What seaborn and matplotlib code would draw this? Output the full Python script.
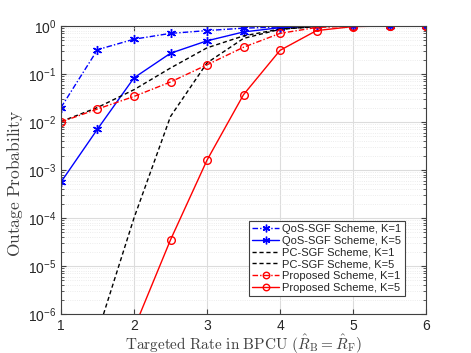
import numpy as np
import pandas as pd
import matplotlib
matplotlib.use("Agg")
import matplotlib.pyplot as plt
import seaborn as sns
from matplotlib.ticker import LogLocator, NullFormatter

# targeted rate (BPCU)
rate = [1, 1.5, 2, 2.5, 3, 3.5, 4, 4.5, 5, 5.5, 6]

# outage probabilities
qos_k1 = [0.02, 0.32, 0.53, 0.70, 0.80, 0.90, 0.95, 0.99, 1.0, 1.0, 1.0]
qos_k5 = [5.6e-4, 7.1e-3, 0.083, 0.27, 0.49, 0.75, 0.92, 0.98, 1.0, 1.0, 1.0]
pc_k1 = [0.0102, 0.02, 0.047, 0.133, 0.35, 0.62, 0.86, 0.97, 1.0, 1.0, 1.0]
pc_k5 = [1e-9, 4e-7, 1e-4, 0.013, 0.17, 0.55, 0.85, 0.97, 1.0, 1.0, 1.0]
prop_k1 = [0.01, 0.0186, 0.034, 0.068, 0.155, 0.36, 0.70, 0.93, 0.99, 1.0, 1.0]
prop_k5 = [1e-10, 1e-8, 5e-7, 3.5e-5, 1.6e-3, 0.037, 0.31, 0.80, 0.97, 1.0, 1.0]

labels = ["QoS-SGF Scheme, K=1", "QoS-SGF Scheme, K=5",
          "PC-SGF Scheme, K=1", "PC-SGF Scheme, K=5",
          "Proposed Scheme, K=1", "Proposed Scheme, K=5"]

sns.set_style("ticks")
plt.rcParams['font.family'] = ['Liberation Sans', 'DejaVu Sans']
plt.rcParams['mathtext.fontset'] = 'cm'

fig = plt.figure(figsize=(4.71, 3.53), dpi=100)
ax = fig.add_axes([0.1295, 0.1105, 0.775, 0.816])

asterisk = (6, 2, 0)
dashdot = (4, 1.5, 1, 1.5)
series = [
    (qos_k1, "blue", dashdot, asterisk, 6.5),
    (qos_k5, "blue", None, asterisk, 6.5),
    (pc_k1, "black", (3, 2), None, 0),
    (pc_k5, "black", (3, 2), None, 0),
    (prop_k1, "red", dashdot, "o", 5.5),
    (prop_k5, "red", None, "o", 5.5),
]

for (vals, col, dash, mk, ms), lab in zip(series, labels):
    df = pd.DataFrame({"rate": rate, "p": vals})
    sns.lineplot(data=df, x="rate", y="p", ax=ax, color=col, lw=1,
                 marker=mk, markersize=ms, markerfacecolor="none",
                 markeredgecolor=col, markeredgewidth=1, label=lab)
    line = ax.lines[-1]
    if dash is not None:
        line.set_dashes(dash)

ax.set_yscale("log")
ax.set_xlim(1, 6)
ax.set_ylim(1e-6, 1)
ax.set_xticks([1, 2, 3, 4, 5, 6])
ax.yaxis.set_major_locator(LogLocator(base=10, numticks=10))
ax.yaxis.set_minor_locator(LogLocator(base=10, subs=np.arange(2, 10), numticks=20))
ax.yaxis.set_minor_formatter(NullFormatter())

ax.grid(True, which="major", color="#dcdcdc", lw=0.8)
ax.grid(True, which="minor", color="#e6e6e6", lw=0.6, ls=":")
ax.set_axisbelow(True)
ax.tick_params(which="both", direction="in", top=True, right=True,
               labelsize=10, color="#404040", labelcolor="#262626")
ax.tick_params(which="minor", length=2)
for s in ax.spines.values():
    s.set_color("#404040")
    s.set_linewidth(0.8)

ax.set_ylabel(r"$\mathrm{Outage\ Probability}$", fontsize=12.5, color="#404040")
ax.yaxis.set_label_coords(-0.098, 0.455)
ax.set_xlabel(r"$\mathrm{Targeted\ Rate\ in\ BPCU}\ (\hat{R}_{\rm B} = \hat{R}_{\rm F})$",
              fontsize=11, color="#404040", labelpad=-0.5)

leg = ax.legend(loc="lower right", bbox_to_anchor=(0.942, 0.0625), fontsize=8,
                handlelength=2.4, handletextpad=0.3, borderpad=0.3,
                labelspacing=0.15, fancybox=False, framealpha=1,
                edgecolor="#404040", borderaxespad=0, markerscale=0.85)
leg.get_frame().set_linewidth(0.8)

fig.savefig("out.png", dpi=100)
